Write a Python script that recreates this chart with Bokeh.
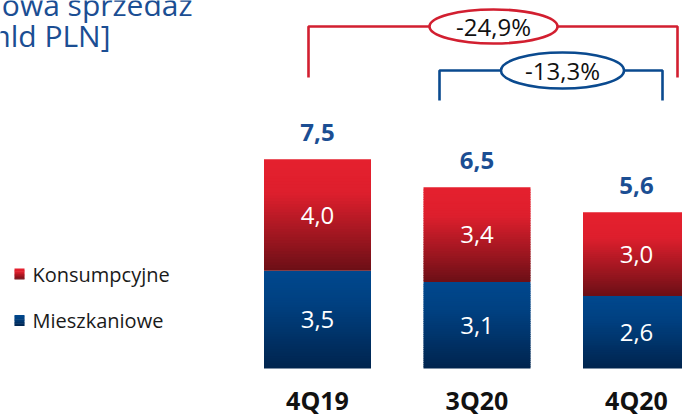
from bokeh.plotting import figure
from bokeh.models import Range1d
from bokeh.embed import file_html
from bokeh.resources import INLINE
from bokeh.core.properties import value

# ---- data ----
categories = ["4Q19", "3Q20", "4Q20"]
mieszkaniowe = [3.5, 3.1, 2.6]
konsumpcyjne = [4.0, 3.4, 3.0]
totals = [7.5, 6.5, 5.6]
series_names = ["Konsumpcyjne", "Mieszkaniowe"]
change_labels = ["-24,9%", "-13,3%"]
title_lines = ["Nowa sprzedaż", "[mld PLN]"]

FONT = "Open Sans"
BLUE_TXT = "#1b4e93"
RED_LINE = "#d21f30"
BLUE_LINE = "#0a4a8f"

# ---- pixel <-> data helpers (window pixels) ----
X0, DX = 317.0, 159.5
Y0, DY = 368.0, 27.9
W, H = 682, 418


def wx(px):
    return (px - X0) / DX


def wy(py):
    return (Y0 - py) / DY


p = figure(width=W, height=H, output_backend="svg", toolbar_location=None,
           x_range=Range1d(wx(0), wx(W)), y_range=Range1d(wy(H), wy(0)),
           min_border=0, outline_line_color=None)
p.xaxis.visible = False
p.yaxis.visible = False
p.grid.visible = False
p.background_fill_color = "white"
p.border_fill_color = "white"


def lerp(c1, c2, t):
    return tuple(int(round(a + (b - a) * t)) for a, b in zip(c1, c2))


def grad_color(stops, t):
    for (t1, c1), (t2, c2) in zip(stops, stops[1:]):
        if t1 <= t <= t2:
            return "#%02x%02x%02x" % lerp(c1, c2, (t - t1) / (t2 - t1) if t2 > t1 else 0)
    return "#%02x%02x%02x" % stops[-1][1]


RED_STOPS = [(0.0, (229, 32, 46)), (0.3, (222, 31, 45)), (1.0, (108, 15, 22))]
BLUE_STOPS = [(0.0, (0, 72, 142)), (0.35, (0, 64, 128)), (1.0, (0, 36, 78))]

BAR_W = 107 / DX
N = 40
OVER = 1.0 / DY  # 1px overlap to hide seams


def gradient_quads(xc, bottom, top, stops, width=BAR_W, n=N, over=OVER):
    L, R, T, B, C = [], [], [], [], []
    for k in range(n):
        t_top = k / n
        t_bot = (k + 1) / n
        T.append(top - (top - bottom) * t_top)
        b = top - (top - bottom) * t_bot
        B.append(b - over if k < n - 1 else b)
        L.append(xc - width / 2)
        R.append(xc + width / 2)
        C.append(grad_color(stops, (k + 0.5) / n))
    p.quad(left=L, right=R, top=T, bottom=B, fill_color=C, line_color=None)


for i, cat in enumerate(categories):
    gradient_quads(i, 0, mieszkaniowe[i], BLUE_STOPS)
    gradient_quads(i, mieszkaniowe[i], mieszkaniowe[i] + konsumpcyjne[i], RED_STOPS)

xs = list(range(len(categories)))


def fmt(v):
    return ("%.1f" % v).replace(".", ",")


# segment labels
p.text(x=xs, y=[m / 2 for m in mieszkaniowe], text=[fmt(v) for v in mieszkaniowe],
       text_align="center", text_baseline="middle", text_color="white",
       text_font=value(FONT), text_font_size="24px", text_font_style="normal")
p.text(x=xs, y=[m + k / 2 for m, k in zip(mieszkaniowe, konsumpcyjne)],
       text=[fmt(v) for v in konsumpcyjne],
       text_align="center", text_baseline="middle", text_color="white",
       text_font=value(FONT), text_font_size="24px", text_font_style="normal")
# totals
p.text(x=xs, y=totals, text=[fmt(v) for v in totals], y_offset=-27,
       text_align="center", text_baseline="middle", text_color=BLUE_TXT,
       text_font=value(FONT), text_font_size="24px", text_font_style="bold")
# category labels
p.text(x=xs, y=[wy(399)] * 3, text=categories,
       text_align="center", text_baseline="middle", text_color="#111111",
       text_font=value(FONT), text_font_size="25px", text_font_style="bold")

# brackets
red_y, red_bot = wy(26), wy(77)
blue_y, blue_bot = wy(70), wy(100)
rl, rr = wx(308), wx(677)
bl, br = wx(439), wx(662)
p.line(x=[rl, rl, rr, rr], y=[red_bot, red_y, red_y, red_bot], line_color=RED_LINE, line_width=2.6)
p.line(x=[bl, bl, br, br], y=[blue_bot, blue_y, blue_y, blue_bot], line_color=BLUE_LINE, line_width=2.6)
p.ellipse(x=[wx(493)], y=[red_y], width=[128], height=[34], width_units="screen",
          height_units="screen", fill_color="white", line_color=RED_LINE, line_width=2.6)
p.ellipse(x=[wx(562)], y=[blue_y], width=[123], height=[36], width_units="screen",
          height_units="screen", fill_color="white", line_color=BLUE_LINE, line_width=2.6)
p.text(x=[wx(493), wx(562)], y=[red_y, blue_y], text=change_labels,
       text_align="center", text_baseline="middle", text_color="#111111",
       text_font=value(FONT), text_font_size="24px")

# legend (manual)
leg_px = [273.5, 320.0]
for j, (name, stops) in enumerate(zip(series_names, [RED_STOPS, BLUE_STOPS])):
    cy = wy(leg_px[j])
    gradient_quads(wx(19), cy - 5.5 / DY, cy + 5.5 / DY, stops, width=10 / DX, n=8, over=0.6 / DY)
p.text(x=[wx(32)] * 2, y=[wy(v) for v in leg_px], text=series_names, text_align="left",
       text_baseline="middle", text_color="#1a1a1a", text_font=value(FONT),
       text_font_size="20px")

# title (cut off at the top-left edge, as in the original slide)
p.text(x=[wx(192), wx(110)], y=[wy(4), wy(35)], text=title_lines, text_align="right",
       text_baseline="middle", text_color=BLUE_TXT, text_font=value(FONT),
       text_font_size="30px")

open("out.html", "w").write(file_html(p, INLINE))
